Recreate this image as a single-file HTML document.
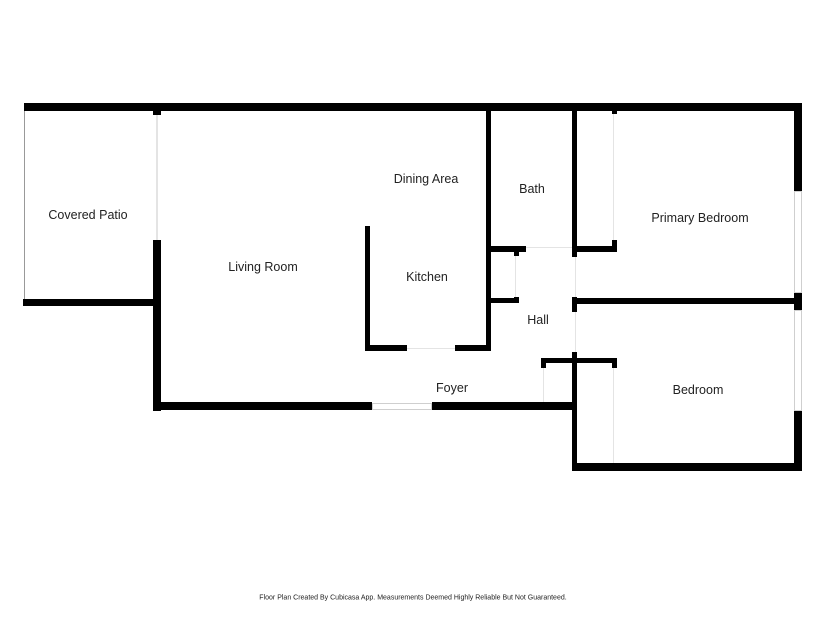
<!DOCTYPE html>
<html><head><meta charset="utf-8"><style>
body{margin:0;width:825px;height:619px;background:#fff;position:relative;overflow:hidden;font-family:"Liberation Sans",sans-serif}
.w{position:absolute;background:#000}
.t{position:absolute;background:#e4e4e4}
.win{position:absolute;border:1px solid #cfcfcf;box-sizing:border-box;background:#fff}
.l{position:absolute;font-size:12.5px;color:#222;transform:translate(-50%,-50%);white-space:nowrap}
</style></head><body>
<!-- top wall -->
<div class="w" style="left:24px;top:103px;width:778px;height:8px"></div>
<!-- patio -->
<div class="t" style="left:24px;top:111px;width:1px;height:189px;background:#999"></div>
<div class="w" style="left:23px;top:299px;width:137px;height:7px"></div>
<!-- living left wall -->
<div class="w" style="left:153px;top:111px;width:8px;height:4px"></div>
<div class="t" style="left:156px;top:115px;width:2px;height:125px"></div>
<div class="w" style="left:153px;top:240px;width:8px;height:171px"></div>
<!-- bottom wall -->
<div class="w" style="left:153px;top:402px;width:219px;height:8px"></div>
<div class="win" style="left:372px;top:403px;width:60px;height:7px"></div>
<div class="w" style="left:432px;top:402px;width:145px;height:8px"></div>
<!-- kitchen -->
<div class="w" style="left:365px;top:226px;width:5px;height:125px"></div>
<div class="w" style="left:365px;top:345px;width:42px;height:6px"></div>
<div class="t" style="left:407px;top:348px;width:48px;height:1px"></div>
<div class="w" style="left:455px;top:345px;width:36px;height:6px"></div>
<div class="w" style="left:486px;top:111px;width:5px;height:240px"></div>
<!-- bath -->
<div class="w" style="left:572px;top:111px;width:5px;height:146px"></div>
<div class="w" style="left:491px;top:246px;width:35px;height:6px"></div>
<div class="w" style="left:514px;top:252px;width:5px;height:4px"></div>
<div class="t" style="left:526px;top:247px;width:46px;height:1px"></div>
<div class="w" style="left:572px;top:246px;width:45px;height:6px"></div>
<div class="w" style="left:612px;top:240px;width:5px;height:8px"></div>
<div class="w" style="left:612px;top:111px;width:5px;height:3px"></div>
<div class="t" style="left:613px;top:114px;width:1px;height:126px"></div>
<!-- hall -->
<div class="w" style="left:491px;top:298px;width:28px;height:5px"></div>
<div class="w" style="left:514px;top:297px;width:5px;height:6px"></div>
<div class="t" style="left:515px;top:256px;width:1px;height:41px"></div>
<div class="t" style="left:575px;top:257px;width:1px;height:40px"></div>
<div class="w" style="left:572px;top:297px;width:5px;height:15px"></div>
<div class="w" style="left:577px;top:298px;width:225px;height:6px"></div>
<div class="t" style="left:575px;top:312px;width:1px;height:40px"></div>
<div class="w" style="left:572px;top:352px;width:5px;height:119px"></div>
<!-- bedroom -->
<div class="w" style="left:541px;top:358px;width:76px;height:5px"></div>
<div class="w" style="left:541px;top:358px;width:5px;height:10px"></div>
<div class="w" style="left:612px;top:358px;width:5px;height:10px"></div>
<div class="t" style="left:543px;top:368px;width:1px;height:34px"></div>
<div class="t" style="left:613px;top:368px;width:1px;height:95px"></div>
<div class="w" style="left:572px;top:463px;width:230px;height:8px"></div>
<!-- right wall -->
<div class="w" style="left:794px;top:103px;width:8px;height:88px"></div>
<div class="win" style="left:794px;top:191px;width:8px;height:102px"></div>
<div class="w" style="left:794px;top:293px;width:8px;height:17px"></div>
<div class="win" style="left:794px;top:310px;width:8px;height:101px"></div>
<div class="w" style="left:794px;top:411px;width:8px;height:60px"></div>
<!-- labels -->
<div class="l" style="left:88px;top:215px">Covered Patio</div>
<div class="l" style="left:263px;top:267px">Living Room</div>
<div class="l" style="left:426px;top:179px">Dining Area</div>
<div class="l" style="left:427px;top:277px">Kitchen</div>
<div class="l" style="left:532px;top:189px">Bath</div>
<div class="l" style="left:700px;top:218px">Primary Bedroom</div>
<div class="l" style="left:538px;top:320px">Hall</div>
<div class="l" style="left:452px;top:388px">Foyer</div>
<div class="l" style="left:698px;top:390px">Bedroom</div>
<div class="l" style="left:413px;top:598px;font-size:7px">Floor Plan Created By Cubicasa App. Measurements Deemed Highly Reliable But Not Guaranteed.</div>
</body></html>
